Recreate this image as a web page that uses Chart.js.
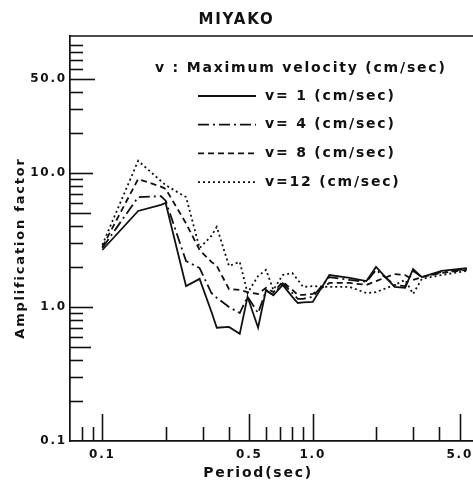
<!DOCTYPE html>
<html>
<head>
<meta charset="utf-8">
<script src="https://cdn.jsdelivr.net/npm/chart.js@4.4.1/dist/chart.umd.min.js"></script>
<style>
  html, body { margin: 0; padding: 0; background: #fff; }
  #wrap { width: 473px; height: 483px; }
</style>
</head>
<body>
<div id="wrap"><canvas id="miyakoChart"></canvas></div>
<script>
// period (sec) and amplification factor
const periods = [0.10, 0.148, 0.19, 0.20, 0.25, 0.29, 0.33, 0.35, 0.40, 0.45, 0.49, 0.55, 0.60, 0.65, 0.72, 0.80, 0.85, 0.90, 1.0, 1.2, 1.5, 1.8, 2.0, 2.45, 2.75, 3.0, 3.3, 4.1, 5.4];
const ampV1 = [2.66, 5.2, 5.77, 5.97, 1.43, 1.62, 0.92, 0.70, 0.71, 0.63, 1.19, 0.70, 1.34, 1.22, 1.46, 1.19, 1.07, 1.08, 1.09, 1.73, 1.65, 1.56, 1.99, 1.41, 1.39, 1.92, 1.67, 1.86, 1.95];
const ampV4 = [2.75, 6.6, 6.7, 6.2, 2.2, 1.95, 1.27, 1.17, 1.0, 0.90, 1.19, 0.90, 1.32, 1.23, 1.50, 1.27, 1.15, 1.15, 1.19, 1.67, 1.59, 1.54, 1.89, 1.46, 1.43, 1.86, 1.67, 1.82, 1.92];
const ampV8 = [2.8, 9.0, 7.9, 7.6, 4.2, 2.66, 2.17, 2.02, 1.36, 1.34, 1.29, 1.25, 1.39, 1.29, 1.54, 1.34, 1.23, 1.23, 1.25, 1.51, 1.51, 1.46, 1.56, 1.76, 1.73, 1.59, 1.67, 1.79, 1.89];
const ampV12 = [2.9, 12.3, 8.7, 8.1, 6.6, 2.75, 3.39, 3.95, 2.02, 2.17, 1.27, 1.70, 1.89, 1.34, 1.73, 1.79, 1.59, 1.41, 1.43, 1.41, 1.41, 1.27, 1.29, 1.46, 1.59, 1.25, 1.62, 1.73, 1.86];

const seriesLabels = ['v= 1 (cm/sec)', 'v= 4 (cm/sec)', 'v= 8 (cm/sec)', 'v=12 (cm/sec)'];
const legendHeader = 'v : Maximum velocity (cm/sec)';

// tick values
const xLabelTicks = [0.1, 0.5, 1, 5];
const xMinorTicks = [0.08, 0.09, 0.2, 0.3, 0.4, 0.6, 0.7, 0.8, 0.9, 2, 3, 4];
const yLabelTicks = [0.1, 1, 10, 50];
const yHalfTicks = [0.5, 5];
const yMinorTicks = [0.2, 0.3, 0.4, 0.6, 0.7, 0.8, 0.9, 2, 3, 4, 6, 7, 8, 9, 20, 30, 40, 60, 70, 80, 90];

const INK = '#111';
const FONT = '"DejaVu Sans", sans-serif';

function pts(vals) {
    return periods.map((p, i) => ({ x: p, y: vals[i] }));
}

const dashes = [[], [11, 4, 2, 4], [6, 4], [2, 3]];
const allVals = [ampV1, ampV4, ampV8, ampV12];

const datasets = allVals.map((vals, i) => ({
    label: seriesLabels[i],
    data: pts(vals),
    borderColor: INK,
    borderWidth: 1.8,
    borderDash: dashes[i],
    pointRadius: 0,
    tension: 0,
    fill: false
}));

// letter spacing like the plotter lettering
const spacingPlugin = {
    id: 'spacing',
    beforeDraw(chart) {
        chart.ctx.letterSpacing = '1.8px';
    }
};

// inward tick marks, top frame line and the in-plot legend
const framePlugin = {
    id: 'frame',
    afterDraw(chart) {
        const ctx = chart.ctx;
        const a = chart.chartArea;
        const xs = chart.scales.x, ys = chart.scales.y;
        ctx.save();
        ctx.strokeStyle = INK;
        ctx.lineWidth = 1.6;
        ctx.setLineDash([]);

        // top border
        ctx.beginPath();
        ctx.moveTo(a.left, a.top);
        ctx.lineTo(a.right, a.top);
        ctx.stroke();

        // x ticks pointing up
        const xTick = (v, len) => {
            const px = Math.round(xs.getPixelForValue(v)) + 0.5;
            ctx.beginPath();
            ctx.moveTo(px, a.bottom);
            ctx.lineTo(px, a.bottom - len);
            ctx.stroke();
        };
        xLabelTicks.forEach(v => xTick(v, 27));
        xMinorTicks.forEach(v => xTick(v, 14));

        // y ticks pointing right
        const yTick = (v, len) => {
            const py = Math.round(ys.getPixelForValue(v)) + 0.5;
            ctx.beginPath();
            ctx.moveTo(a.left, py);
            ctx.lineTo(a.left + len, py);
            ctx.stroke();
        };
        yLabelTicks.forEach(v => { if (v > ys.min) yTick(v, v === 50 ? 25 : 23); });
        yHalfTicks.forEach(v => yTick(v, 21));
        yMinorTicks.forEach(v => yTick(v, 13));

        // legend
        ctx.font = 'bold 14px ' + FONT;
        ctx.fillStyle = INK;
        ctx.textBaseline = 'middle';
        ctx.textAlign = 'left';
        ctx.fillText(legendHeader, 155, 68);
        chart.data.datasets.forEach((ds, i) => {
            const y = 96 + i * 28.7;
            ctx.setLineDash(ds.borderDash);
            ctx.lineWidth = ds.borderWidth;
            ctx.beginPath();
            ctx.moveTo(198, y);
            ctx.lineTo(256, y);
            ctx.stroke();
            ctx.setLineDash([]);
            ctx.fillText(ds.label, 265, y);
        });
        ctx.restore();
    }
};

new Chart(document.getElementById('miyakoChart'), {
    type: 'line',
    data: { datasets: datasets },
    options: {
        responsive: true,
        maintainAspectRatio: false,
        animation: false,
        layout: { padding: 0 },
        plugins: {
            legend: { display: false },
            tooltip: { enabled: false },
            title: {
                display: true,
                text: 'MIYAKO',
                color: INK,
                font: { family: FONT, size: 15, weight: 'bold' },
                padding: { top: 11, bottom: 7 }
            }
        },
        scales: {
            x: {
                type: 'logarithmic',
                min: 0.0702,
                max: 5.78,
                grid: { display: false, drawTicks: false },
                border: { display: true, color: INK, width: 1.7 },
                afterBuildTicks: (s) => { s.ticks = xLabelTicks.map(v => ({ value: v })); },
                afterFit: (s) => { s.height = 42; s.paddingLeft = 0; s.paddingRight = 0; },
                ticks: {
                    autoSkip: false,
                    maxRotation: 0,
                    padding: 7,
                    color: INK,
                    font: { family: FONT, size: 12, weight: 'bold' },
                    callback: (v) => Number(v).toFixed(1)
                },
                title: {
                    display: true,
                    text: 'Period(sec)    ',
                    color: INK,
                    font: { family: FONT, size: 14, weight: 'bold' },
                    padding: { top: 0, bottom: 1 }
                }
            },
            y: {
                type: 'logarithmic',
                min: 0.1,
                max: 105,
                grid: { display: false, drawTicks: false },
                border: { display: true, color: INK, width: 1.7 },
                afterBuildTicks: (s) => { s.ticks = yLabelTicks.map(v => ({ value: v })); },
                afterFit: (s) => { s.width = 70; s.paddingTop = 0; s.paddingBottom = 0; },
                ticks: {
                    autoSkip: false,
                    padding: 3,
                    color: INK,
                    font: { family: FONT, size: 12, weight: 'bold' },
                    callback: (v) => Number(v).toFixed(1)
                },
                title: {
                    display: true,
                    text: 'Amplification factor   ',
                    color: INK,
                    font: { family: FONT, size: 13, weight: 'bold' },
                    padding: { top: 13, bottom: 0 }
                }
            }
        }
    },
    plugins: [spacingPlugin, framePlugin]
});
</script>
</body>
</html>
